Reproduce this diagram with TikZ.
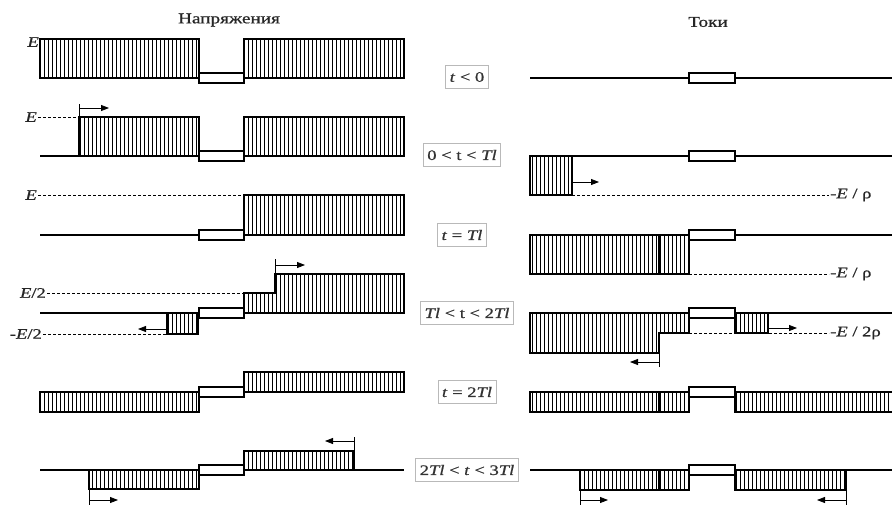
\documentclass[tikz,border=0pt]{standalone}
\usepackage{fontspec}
\setmainfont[FakeStretch=1.28,FakeBold=0.8]{Liberation Serif}
\usetikzlibrary{arrows.meta}
\tikzset{
  wire/.style={line width=2.4pt},
  band/.style={line width=1.3pt, line join=miter},
  hline/.style={line width=0.65pt},
  sep/.style={line width=1.1pt},
  res/.style={draw, line width=1.3pt, fill=white},
  lvl/.style={dash pattern=on 3pt off 2pt, line width=0.6pt},
  move/.style={-{Triangle[length=8pt,width=6pt]}, line width=0.8pt},
  tick/.style={line width=0.8pt},
  tag/.style={draw=gray!55, line width=0.8pt, inner xsep=4pt, inner ysep=2pt, minimum height=23pt, text=black!80, font=\fontsize{14.5}{16}\selectfont},
  lab/.style={font=\fontsize{14.5}{16}\selectfont, inner sep=1pt, text=black!85},
  title/.style={font=\fontsize{15}{17}\selectfont, text=black!85}
}
% hatched region: vertical strokes clipped to the path, then its outline
\newcommand{\hatch}[1]{%
  \begin{scope}
    \clip #1;
    \foreach \hx in {0,4,...,900} \draw[hline] (\hx,0) -- (\hx,504);
  \end{scope}
  \draw[band] #1;}

\begin{document}
\begin{tikzpicture}[x=1pt,y=-1pt]
  \useasboundingbox (0,0) rectangle (892,504);
  \clip (0,0) rectangle (892,504);

  \node[title] (volt) at (229,20) {Напряжения};
  \node[title] (curr) at (708,22) {Токи};

  % time tags
  \node[tag] (s1) at (467,77) {\textit{t} < 0};
  \node[tag] (s2) at (462,155) {0 < t < \textit{Tl}};
  \node[tag] (s3) at (462,235) {\textit{t} = \textit{Tl}};
  \node[tag] (s4) at (467,313) {\textit{Tl} < t < 2\textit{Tl}};
  \node[tag] (s5) at (467,392) {\textit{t} = 2\textit{Tl}};
  \node[tag] (s6) at (467,470) {2\textit{Tl} < \textit{t} < 3\textit{Tl}};

  % ---- voltages ----
  % t < 0
  \hatch{(40,39) rectangle (199,78)}
  \hatch{(244,39) rectangle (404,78)}
  \draw[wire] (40,78) -- (404,78);
  \draw[res] (199,73) rectangle (244,83);
  \node[lab, anchor=east] (e1) at (40,42) {\textit{E}};

  % 0 < t < Tl
  \hatch{(79,117) rectangle (199,156)}
  \hatch{(244,117) rectangle (404,156)}
  \draw[wire] (40,156) -- (404,156);
  \draw[res] (199,151) rectangle (244,161);
  \node[lab, anchor=east] (e2) at (38,117) {\textit{E}};
  \coordinate (f2) at (79,117);
  \draw[lvl] (e2) -- (f2);
  \draw[tick] (f2) -- (79,104);
  \draw[move] (79,108) -- (109,108);

  % t = Tl
  \hatch{(244,195) rectangle (404,235)}
  \draw[wire] (40,235) -- (404,235);
  \draw[res] (199,230) rectangle (244,240);
  \node[lab, anchor=east] (e3) at (38,195) {\textit{E}};
  \coordinate (f3) at (244,195);
  \draw[lvl] (e3) -- (f3);

  % Tl < t < 2Tl
  \hatch{(244,313) -- (244,293) -- (275,293) -- (275,274) -- (404,274) -- (404,313) -- cycle}
  \hatch{(167,313) rectangle (198,334)}
  \draw[wire] (40,313) -- (404,313);
  \draw[res] (199,308) rectangle (244,318);
  \node[lab, anchor=east] (e4) at (47,293) {\textit{E}/2};
  \coordinate (f4) at (244,293);
  \draw[lvl] (e4) -- (f4);
  \node[lab, anchor=east] (e5) at (43,334) {-\textit{E}/2};
  \coordinate (f5) at (167,334);
  \draw[lvl] (e5) -- (f5);
  \draw[tick] (275,274) -- (275,259);
  \draw[move] (275,265) -- (305,265);
  \draw[move] (167,329) -- (138,329);

  % t = 2Tl
  \hatch{(40,392) rectangle (199,412)}
  \hatch{(244,372) rectangle (404,392)}
  \draw[res] (199,387) rectangle (244,397);

  % 2Tl < t < 3Tl
  \hatch{(89,470) rectangle (199,489)}
  \hatch{(244,451) rectangle (354,470)}
  \draw[wire] (40,470) -- (404,470);
  \draw[res] (199,465) rectangle (244,475);
  \draw[tick] (354,451) -- (354,437);
  \draw[move] (354,441) -- (325,441);
  \draw[tick] (89,489) -- (89,506);
  \draw[move] (89,500) -- (118,500);

  % ---- currents ----
  % t < 0
  \draw[wire] (530,78) -- (900,78);
  \draw[res] (689,73) rectangle (735,83);

  % 0 < t < Tl
  \hatch{(530,156) rectangle (572,195)}
  \draw[wire] (530,156) -- (900,156);
  \draw[res] (689,151) rectangle (735,161);
  \draw[move] (572,182) -- (599,182);
  \node[lab, anchor=west] (i1) at (829,195) {-\textit{E} / ρ};
  \coordinate (g1) at (572,195);
  \draw[lvl] (g1) -- (i1);

  % t = Tl
  \hatch{(530,235) rectangle (689,274)}
  \draw[sep] (659,235) -- (659,274);
  \draw[wire] (530,235) -- (900,235);
  \draw[res] (689,230) rectangle (735,240);
  \node[lab, anchor=west] (i2) at (829,274) {-\textit{E} / ρ};
  \coordinate (g2) at (689,274);
  \draw[lvl] (g2) -- (i2);

  % Tl < t < 2Tl
  \hatch{(530,313) -- (689,313) -- (689,333) -- (659,333) -- (659,353) -- (530,353) -- cycle}
  \hatch{(735,313) rectangle (768,333)}
  \draw[wire] (530,313) -- (900,313);
  \draw[res] (689,308) rectangle (735,318);
  \node[lab, anchor=west] (i3) at (829,333) {-\textit{E} / 2ρ};
  \coordinate (g3) at (689,333);
  \draw[lvl] (g3) -- (i3);
  \draw[move] (768,328) -- (797,328);
  \draw[tick] (659,353) -- (659,367);
  \draw[move] (659,362) -- (630,362);

  % t = 2Tl
  \hatch{(530,392) rectangle (689,412)}
  \hatch{(735,392) rectangle (900,412)}
  \draw[sep] (659,392) -- (659,412);
  \draw[res] (689,387) rectangle (735,397);

  % 2Tl < t < 3Tl
  \hatch{(580,470) rectangle (689,490)}
  \hatch{(735,470) rectangle (846,490)}
  \draw[sep] (659,470) -- (659,490);
  \draw[wire] (530,470) -- (900,470);
  \draw[res] (689,465) rectangle (735,475);
  \draw[tick] (580,490) -- (580,506);
  \draw[move] (580,500) -- (608,500);
  \draw[tick] (846,490) -- (846,506);
  \draw[move] (846,500) -- (817,500);
\end{tikzpicture}
\end{document}
